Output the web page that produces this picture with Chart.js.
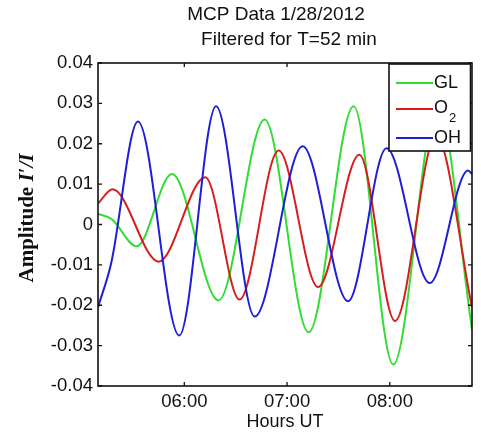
<!DOCTYPE html>
<html>
<head>
<meta charset="utf-8">
<script src="https://cdn.jsdelivr.net/npm/chart.js@4.4.1/dist/chart.umd.min.js"></script>
<style>
  body { margin: 0; background: #fff; }
  #chart { display: block; }
</style>
</head>
<body>
<canvas id="chart" width="481" height="438"></canvas>
<script>
'use strict';

//#region Data

const seriesNames = ['GL', 'O₂', 'OH'];
const seriesColors = ['rgb(50, 220, 50)', 'rgb(215, 30, 30)', 'rgb(30, 30, 215)'];

// hours UT of each read point, and amplitude I'/I there
const glHours = [5.16, 5.29, 5.537, 5.880, 6.334, 6.782, 7.210, 7.648, 8.033, 8.465, 8.80];
const glAmp = [0.0026, 0.0014, -0.0054, 0.0125, -0.0188, 0.0260, -0.0267, 0.0293, -0.0347, 0.0300, -0.0260];

const o2Hours = [5.16, 5.302, 5.750, 6.204, 6.538, 6.918, 7.302, 7.704, 8.051, 8.45, 8.80];
const o2Amp = [0.0052, 0.0087, -0.0092, 0.0117, -0.0186, 0.0183, -0.0155, 0.0173, -0.0239, 0.0220, -0.0205];

const ohHours = [5.16, 5.287, 5.549, 5.951, 6.309, 6.685, 7.152, 7.594, 7.968, 8.389, 8.762, 8.80];
const ohAmp = [-0.0205, -0.0097, 0.0255, -0.0275, 0.0293, -0.0228, 0.0194, -0.0190, 0.0189, -0.0145, 0.0134, 0.0125];

const xTickHours = [6, 7, 8];
const yTickValues = [-0.04, -0.03, -0.02, -0.01, 0, 0.01, 0.02, 0.03, 0.04];

//#endregion

const chartElem = document.getElementById('chart');
const context = chartElem.getContext('2d');

const sansFont = '"Liberation Sans", Arial, sans-serif';
const serifFont = '"Liberation Serif", "Times New Roman", serif';

function toPoints(hours, amps) {
  return hours.map((h, i) => ({ x: h, y: amps[i] }));
}

const allHours = [glHours, o2Hours, ohHours];
const allAmps = [glAmp, o2Amp, ohAmp];

const datasets = seriesNames.map((name, i) => ({
  label: name,
  data: toPoints(allHours[i], allAmps[i]),
  borderColor: seriesColors[i],
  borderWidth: 2,
  pointRadius: 0,
  fill: false,
  cubicInterpolationMode: 'monotone',
  order: seriesNames.length - i
}));

// draws the matlab style box, inward ticks, titles and legend
const matlabFrame = {
  id: 'matlabFrame',
  afterDraw(chart) {
    const ctx = chart.ctx;
    const area = chart.chartArea;
    const xScale = chart.scales.x;
    const yScale = chart.scales.y;
    const tickLen = 4;

    ctx.save();
    ctx.strokeStyle = '#111';
    ctx.lineWidth = 1.6;
    ctx.strokeRect(area.left, area.top, area.right - area.left, area.bottom - area.top);

    ctx.lineWidth = 1.3;
    ctx.beginPath();
    xTickHours.forEach(h => {
      const px = xScale.getPixelForValue(h);
      ctx.moveTo(px, area.bottom);
      ctx.lineTo(px, area.bottom - tickLen);
      ctx.moveTo(px, area.top);
      ctx.lineTo(px, area.top + tickLen);
    });
    yTickValues.forEach(v => {
      const py = yScale.getPixelForValue(v);
      ctx.moveTo(area.left, py);
      ctx.lineTo(area.left + tickLen, py);
      ctx.moveTo(area.right, py);
      ctx.lineTo(area.right - tickLen, py);
    });
    ctx.stroke();

    // title
    ctx.fillStyle = '#111';
    ctx.textAlign = 'center';
    ctx.textBaseline = 'middle';
    ctx.font = '19px ' + sansFont;
    ctx.fillText('MCP Data 1/28/2012', 276, 15);
    ctx.fillText('Filtered for T=52 min', 289, 40);

    // y axis label, rotated
    ctx.save();
    ctx.translate(28, 218);
    ctx.rotate(-Math.PI / 2);
    const partA = 'Amplitude ';
    const partB = 'I′/I';
    ctx.font = 'bold 21px ' + serifFont;
    const wA = ctx.measureText(partA).width;
    ctx.font = 'bold italic 21px ' + serifFont;
    const wB = ctx.measureText(partB).width;
    const startX = -(wA + wB) / 2;
    ctx.textAlign = 'left';
    ctx.font = 'bold 21px ' + serifFont;
    ctx.fillText(partA, startX, 0);
    ctx.font = 'bold italic 21px ' + serifFont;
    ctx.fillText(partB, startX + wA, 0);
    ctx.restore();

    // legend
    const boxLeft = 389;
    const boxTop = area.top + 1;
    const boxRight = area.right - 1.5;
    const boxBottom = 151;
    ctx.fillStyle = '#fff';
    ctx.fillRect(boxLeft, boxTop, boxRight - boxLeft, boxBottom - boxTop);
    ctx.strokeStyle = '#111';
    ctx.lineWidth = 1.6;
    ctx.strokeRect(boxLeft, boxTop, boxRight - boxLeft, boxBottom - boxTop);

    const rowY = [83, 109, 138];
    chart.data.datasets.forEach((ds, i) => {
      ctx.strokeStyle = ds.borderColor;
      ctx.lineWidth = 2;
      ctx.beginPath();
      ctx.moveTo(396, rowY[i]);
      ctx.lineTo(433, rowY[i]);
      ctx.stroke();

      ctx.fillStyle = '#111';
      ctx.textAlign = 'left';
      ctx.textBaseline = 'middle';
      ctx.font = '18px ' + sansFont;
      const label = ds.label;
      if (label.includes('₂')) {
        const base = label.replace('₂', '');
        ctx.fillText(base, 434, rowY[i] - 1);
        const w = ctx.measureText(base).width;
        ctx.font = '13px ' + sansFont;
        ctx.fillText('2', 434 + w + 1, rowY[i] + 9);
      } else {
        ctx.fillText(label, 434, rowY[i]);
      }
    });
    ctx.restore();
  }
};

const chartObj = {
  type: 'line',
  data: { datasets: datasets },
  options: {
    responsive: false,
    animation: false,
    devicePixelRatio: 1,
    layout: {
      padding: { left: 0, right: 9, top: 63, bottom: 0 }
    },
    plugins: {
      legend: { display: false },
      tooltip: { enabled: false },
      title: { display: false }
    },
    scales: {
      x: {
        type: 'linear',
        position: 'bottom',
        min: 5.16,
        max: 8.80,
        grid: { display: false, drawTicks: false },
        border: { display: false },
        afterBuildTicks: scale => {
          scale.ticks = xTickHours.map(h => ({ value: h }));
        },
        afterFit: scale => {
          scale.height = 52;
        },
        ticks: {
          color: '#111',
          padding: 5,
          maxRotation: 0,
          font: { family: sansFont, size: 18.5 },
          callback: value => String(value).padStart(2, '0') + ':00'
        },
        title: {
          display: true,
          text: 'Hours UT',
          color: '#111',
          font: { family: sansFont, size: 18 },
          padding: { top: 0, bottom: 5 }
        }
      },
      y: {
        type: 'linear',
        position: 'left',
        min: -0.04,
        max: 0.04,
        grid: { display: false, drawTicks: false },
        border: { display: false },
        afterBuildTicks: scale => {
          scale.ticks = yTickValues.map(v => ({ value: v }));
        },
        afterFit: scale => {
          scale.width = 98;
        },
        ticks: {
          color: '#111',
          padding: 5,
          font: { family: sansFont, size: 18.5 },
          callback: value => (Math.abs(value) < 1e-9 ? '0' : value.toFixed(2))
        }
      }
    }
  },
  plugins: [matlabFrame]
};

const chart = new Chart(context, chartObj); //eslint-disable-line
</script>
</body>
</html>
